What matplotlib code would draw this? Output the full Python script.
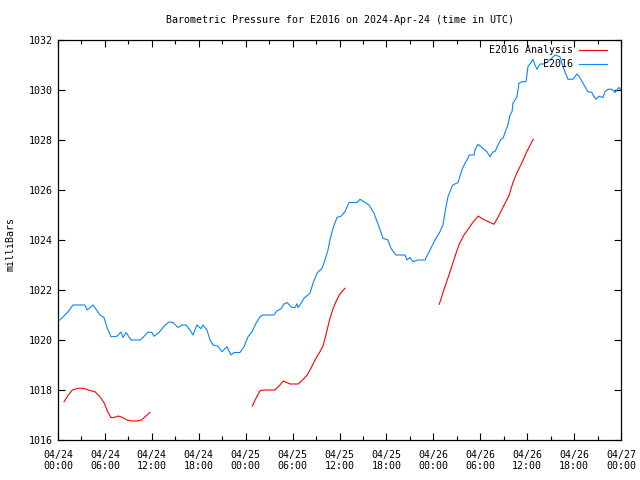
import numpy as np
import matplotlib
matplotlib.use('Agg')
import matplotlib.pyplot as plt
import matplotlib.dates as mdates
from datetime import datetime, timedelta

# hours since 2024-04-24 00:00 UTC
obs_hours = [0.26, 1.28, 1.92, 3.45, 3.71, 4.48, 5.37, 5.88, 6.27, 6.78, 7.54, 8.06, 8.31, 8.70,
             9.34, 10.49, 10.87, 11.51, 12.02, 12.28, 12.92, 13.55, 14.19, 14.71, 15.35, 15.86,
             16.37, 16.88, 17.26, 17.77, 18.29, 18.54, 19.05, 19.44, 19.82, 20.46, 20.97, 21.61,
             22.12, 22.51, 23.27, 23.79, 24.30, 24.81, 25.32, 25.83, 26.21, 27.62, 28.01, 28.52,
             28.90, 29.28, 29.92, 30.31, 30.56, 30.69, 30.95, 31.46, 32.23, 32.61, 33.12, 33.76,
             34.14, 34.53, 34.78, 35.17, 35.68, 36.19, 36.70, 37.21, 38.24, 38.62, 39.26, 39.77,
             40.41, 41.05, 41.56, 42.20, 42.58, 43.22, 44.37, 44.63, 45.01, 45.40, 46.04, 46.93,
             47.57, 48.21, 48.85, 49.23, 49.62, 49.87, 50.38, 50.51, 51.15, 51.66, 51.79, 52.05,
             52.43, 52.56, 53.20, 53.32, 53.71, 54.22, 54.86, 55.24, 55.63, 55.88, 56.27, 56.65,
             56.91, 57.29, 57.54, 57.80, 58.06, 58.18, 58.70, 58.95, 59.34, 59.85, 60.10, 60.49,
             60.74, 61.00, 61.25, 61.64, 62.15, 62.92, 63.55, 64.19, 64.58, 65.22, 65.86, 66.37,
             66.62, 67.14, 67.77, 68.29, 68.41, 68.80, 69.18, 69.69, 69.95, 70.33, 70.84, 71.23,
             71.74, 72.0]
obs_mb = [1020.8, 1021.13, 1021.4, 1021.4, 1021.2, 1021.4, 1021.0, 1020.9, 1020.5, 1020.13,
          1020.15, 1020.32, 1020.1, 1020.3, 1020.0, 1020.0, 1020.1, 1020.32, 1020.3, 1020.15,
          1020.3, 1020.55, 1020.72, 1020.7, 1020.5, 1020.6, 1020.6, 1020.4, 1020.2, 1020.6,
          1020.45, 1020.6, 1020.4, 1020.0, 1019.8, 1019.75, 1019.53, 1019.73, 1019.4, 1019.5,
          1019.5, 1019.73, 1020.13, 1020.33, 1020.67, 1020.93, 1021.0, 1021.0, 1021.17, 1021.25,
          1021.44, 1021.5, 1021.3, 1021.3, 1021.45, 1021.3, 1021.4, 1021.67, 1021.87, 1022.27,
          1022.67, 1022.87, 1023.2, 1023.6, 1024.0, 1024.47, 1024.9, 1024.95, 1025.13, 1025.5,
          1025.5, 1025.63, 1025.5, 1025.4, 1025.07, 1024.53, 1024.07, 1024.0, 1023.67, 1023.4,
          1023.4, 1023.2, 1023.3, 1023.13, 1023.2, 1023.2, 1023.6, 1024.0, 1024.33, 1024.6,
          1025.33, 1025.73, 1026.13, 1026.2, 1026.3, 1026.8, 1026.9, 1027.07, 1027.27, 1027.4,
          1027.4, 1027.6, 1027.83, 1027.7, 1027.53, 1027.33, 1027.53, 1027.53, 1027.8, 1028.03,
          1028.07, 1028.4, 1028.6, 1029.0, 1029.13, 1029.47, 1029.73, 1030.27, 1030.33, 1030.33,
          1030.93, 1031.1, 1031.23, 1031.0, 1030.83, 1031.04, 1031.04, 1031.2, 1031.4, 1031.33,
          1030.93, 1030.43, 1030.43, 1030.64, 1030.56, 1030.27, 1029.93, 1029.9, 1029.8, 1029.63,
          1029.75, 1029.7, 1029.93, 1030.03, 1030.03, 1029.9, 1030.1, 1030.0]

# analysis runs, nan separates the three pieces
ana_hours = [0.77, 1.32, 1.83, 2.60, 3.24, 3.87, 4.73, 5.37, 5.92, 6.36, 6.78, 7.16, 7.71, 8.27,
             8.79, 9.42, 10.06, 10.70, 11.13, 11.76, np.nan,
             24.85, 25.32, 25.83, 26.25, 27.75, 28.30, 28.81, 29.67, 30.73, 31.37, 31.88, 32.44,
             32.99, 33.50, 33.93, 34.36, 34.78, 35.20, 35.64, 36.06, 36.70, np.nan,
             48.76, 49.27, 49.78, 50.35, 50.90, 51.32, 51.92, 52.60, 53.11, 53.75, 54.31, 55.03,
             55.75, 56.31, 56.94, 57.71, 58.15, 58.66, 59.30, 59.94, 60.78]
ana_mb = [1017.53, 1017.8, 1018.0, 1018.07, 1018.07, 1018.0, 1017.93, 1017.73, 1017.47, 1017.13,
          1016.9, 1016.9, 1016.96, 1016.9, 1016.8, 1016.76, 1016.76, 1016.8, 1016.93, 1017.1, np.nan,
          1017.36, 1017.67, 1017.97, 1018.0, 1018.0, 1018.17, 1018.36, 1018.24, 1018.24, 1018.43,
          1018.6, 1018.93, 1019.27, 1019.53, 1019.8, 1020.33, 1020.87, 1021.27, 1021.6, 1021.84,
          1022.07, np.nan,
          1021.43, 1021.93, 1022.4, 1022.93, 1023.47, 1023.84, 1024.2, 1024.5, 1024.73, 1024.96,
          1024.84, 1024.73, 1024.63, 1024.93, 1025.33, 1025.8, 1026.27, 1026.67, 1027.07, 1027.53,
          1028.03]

start = datetime(2024, 4, 24)
end = start + timedelta(hours=72)

def to_num(hours):
    return np.array([mdates.date2num(start + timedelta(hours=h)) if not np.isnan(h) else np.nan
                     for h in hours])

obs_t = to_num(obs_hours)
ana_t = to_num(ana_hours)

plt.rcParams['font.family'] = 'DejaVu Sans Mono'
plt.rcParams['font.size'] = 7.2

fig = plt.figure(figsize=(6.4, 4.8), dpi=100)
ax = fig.add_axes([58/640, 40/480, 563/640, 400/480])

ax.plot(ana_t, ana_mb, color='#ff0000', lw=0.8, label='E2016 Analysis')
ax.plot(obs_t, obs_mb, color='#0a84ff', lw=0.8, label='E2016')

ax.set_xlim(mdates.date2num(start), mdates.date2num(end))
ax.set_ylim(1016, 1032)
ax.set_yticks(np.arange(1016, 1033, 2))

ax.xaxis.set_major_locator(mdates.HourLocator(byhour=[0, 6, 12, 18]))
ax.xaxis.set_minor_locator(mdates.HourLocator(byhour=[3, 9, 15, 21]))
ax.xaxis.set_major_formatter(mdates.DateFormatter('%m/%d\n%H:%M'))

ax.tick_params(which='both', direction='in', top=True, right=True)
ax.tick_params(axis='x', pad=7)
ax.tick_params(axis='y', pad=4)
ax.tick_params(which='major', length=5, width=0.8)
ax.tick_params(which='minor', length=3, width=0.8)
for s in ax.spines.values():
    s.set_linewidth(0.9)

ax.set_ylabel('milliBars')
ax.yaxis.set_label_coords(-0.075, 0.49)
ax.set_title('Barometric Pressure for E2016 on 2024-Apr-24 (time in UTC)',
             fontsize=7.2, pad=12)

ax.legend(loc='upper right', frameon=False, markerfirst=False, handlelength=2.8,
          borderaxespad=0.15, labelspacing=0.4, handletextpad=0.6,
          bbox_to_anchor=(0.985, 1.0))

fig.savefig('out.png', dpi=100)
